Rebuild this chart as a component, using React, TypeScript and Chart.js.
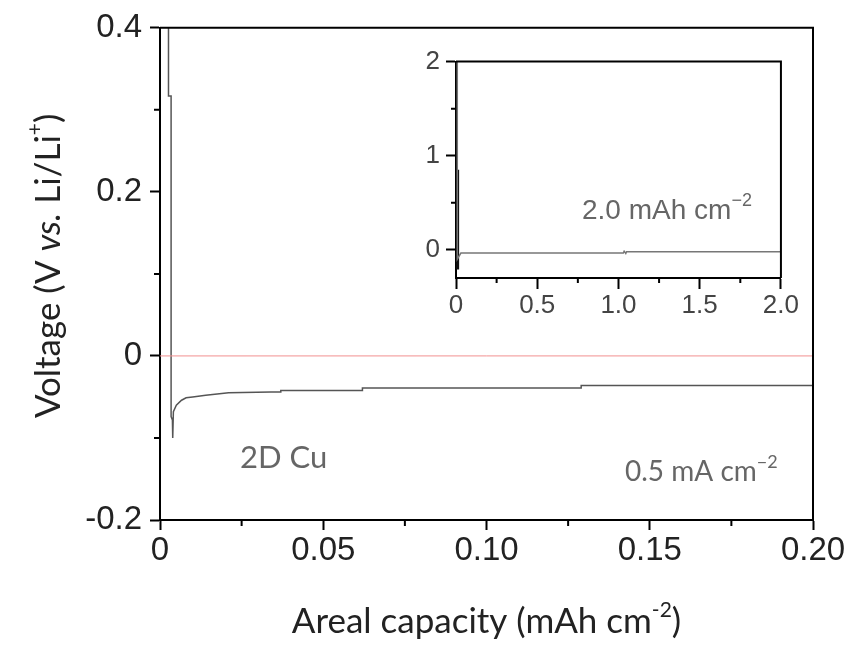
import React, { useEffect, useRef } from 'react';
import { Chart, registerables } from 'chart.js';
Chart.register(...registerables);

// ---- main chart data ----
const X_TICKS = [0, 0.05, 0.1, 0.15, 0.2];
const X_LABELS = ['0', '0.05', '0.10', '0.15', '0.20'];
const X_MINOR = [0.025, 0.075, 0.125, 0.175];
const Y_TICKS = [-0.2, 0, 0.2, 0.4];
const Y_LABELS = ['-0.2', '0', '0.2', '0.4'];
const Y_MINOR = [-0.1, 0.1, 0.3];

const capacity = [0.0026, 0.0026, 0.0034, 0.0034, 0.0038, 0.0039, 0.0041, 0.005, 0.0066, 0.008, 0.010, 0.014, 0.021, 0.034, 0.037, 0.037, 0.062, 0.062, 0.129, 0.129, 0.2];
const voltage = [0.45, 0.317, 0.317, -0.074, -0.078, -0.1, -0.068, -0.06, -0.054, -0.051, -0.05, -0.048, -0.045, -0.044, -0.044, -0.042, -0.042, -0.039, -0.039, -0.036, -0.036];
const zeroCap = [0, 0.2];
const zeroV = [0, 0];

// ---- inset data ----
const IN_X_TICKS = [0, 0.5, 1.0, 1.5, 2.0];
const IN_X_LABELS = ['0', '0.5', '1.0', '1.5', '2.0'];
const IN_X_MINOR = [0.25, 0.75, 1.25, 1.75];
const IN_Y_TICKS = [0, 1, 2];
const IN_Y_LABELS = ['0', '1', '2'];
const IN_Y_MINOR = [0.5, 1.5];

const inCap = [0.008, 0.008, 0.03, 1.03, 1.035, 1.045, 1.05, 2.0];
const inV = [2.0, -0.1, -0.035, -0.035, -0.015, -0.04, -0.02, -0.02];
const spikeCap = [0.01, 0.01];
const spikeV = [-0.21, 0.85];

type Seg = { t: string; font: string; dy?: number };
function drawRich(ctx: CanvasRenderingContext2D, segs: Seg[], x: number, y: number, align: 'left' | 'center', color: string) {
  ctx.save();
  ctx.fillStyle = color;
  ctx.textBaseline = 'alphabetic';
  ctx.textAlign = 'left';
  let total = 0;
  for (const s of segs) { ctx.font = s.font; total += ctx.measureText(s.t).width; }
  let cx = align === 'center' ? x - total / 2 : x;
  for (const s of segs) {
    ctx.font = s.font;
    ctx.fillText(s.t, cx, y + (s.dy || 0));
    cx += ctx.measureText(s.t).width;
  }
  ctx.restore();
}

function pts(xs: number[], ys: number[]) {
  return xs.map((x, i) => ({ x, y: ys[i] }));
}

function framePlugin(xMinor: number[], yMinor: number[], minorLen: number, extra?: (c: any) => void) {
  return {
    id: 'frame',
    afterDraw(chart: any) {
      const { ctx, chartArea: a, scales } = chart;
      ctx.save();
      ctx.strokeStyle = '#000';
      ctx.lineWidth = 2;
      ctx.beginPath();
      ctx.moveTo(a.left, a.top);
      ctx.lineTo(a.right, a.top);
      ctx.lineTo(a.right, a.bottom);
      ctx.stroke();
      ctx.beginPath();
      for (const v of xMinor) {
        const px = scales.x.getPixelForValue(v);
        ctx.moveTo(px, a.bottom);
        ctx.lineTo(px, a.bottom + minorLen);
      }
      for (const v of yMinor) {
        const py = scales.y.getPixelForValue(v);
        ctx.moveTo(a.left, py);
        ctx.lineTo(a.left - minorLen, py);
      }
      ctx.stroke();
      ctx.restore();
      if (extra) extra(chart);
    },
  };
}

export default function App() {
  const mainRef = useRef<HTMLCanvasElement>(null);
  const insetRef = useRef<HTMLCanvasElement>(null);

  useEffect(() => {
    const tickFont = { family: '"Liberation Sans", Arial, sans-serif', size: 33 };
    const main = new Chart(mainRef.current!, {
      type: 'line',
      data: {
        datasets: [
          { data: pts(zeroCap, zeroV), borderColor: '#f29090', borderWidth: 1, pointRadius: 0 },
          { data: pts(capacity, voltage), borderColor: '#555', borderWidth: 1.5, pointRadius: 0, tension: 0 },
        ],
      },
      options: {
        animation: false,
        responsive: false,
        devicePixelRatio: 1,
        layout: { padding: { left: 0, top: 27, right: 37, bottom: 0 } },
        plugins: { legend: { display: false }, tooltip: { enabled: false } },
        scales: {
          x: {
            type: 'linear', min: 0, max: 0.2,
            afterBuildTicks: (s: any) => { s.ticks = X_TICKS.map((v) => ({ value: v })); },
            afterFit: (s: any) => { s.height = 125; },
            ticks: { callback: (_v: any, i: number) => X_LABELS[i], font: tickFont, color: '#222', padding: 1, maxRotation: 0, autoSkip: false },
            grid: { drawOnChartArea: false, drawTicks: true, tickLength: 10, tickWidth: 2, tickColor: '#000' },
            border: { color: '#000', width: 2 },
          },
          y: {
            type: 'linear', min: -0.2, max: 0.4,
            afterBuildTicks: (s: any) => { s.ticks = Y_TICKS.map((v) => ({ value: v })); },
            afterFit: (s: any) => { s.width = 160; },
            ticks: { callback: (_v: any, i: number) => Y_LABELS[i], font: tickFont, color: '#222', padding: 8, autoSkip: false },
            grid: { drawOnChartArea: false, drawTicks: true, tickLength: 10, tickWidth: 2, tickColor: '#000' },
            border: { color: '#000', width: 2 },
          },
        },
      },
      plugins: [
        framePlugin(X_MINOR, Y_MINOR, 6, (chart: any) => {
          const ctx = chart.ctx as CanvasRenderingContext2D;
          const a = chart.chartArea;
          const f = (n: number, st = '') => `${st}${n}px Lato, "Open Sans", sans-serif`;
          // x title
          drawRich(ctx, [
            { t: 'Areal capacity (mAh cm', font: f(35) },
            { t: '-2', font: f(21), dy: -16 },
            { t: ')', font: f(35) },
          ], (a.left + a.right) / 2, 633, 'center', '#222');
          // y title
          ctx.save();
          ctx.translate(60, (a.top + a.bottom) / 2 - 8);
          ctx.rotate(-Math.PI / 2);
          drawRich(ctx, [
            { t: 'Voltage (V ', font: f(35) },
            { t: 'vs.', font: f(35, 'italic ') },
            { t: ' Li/Li', font: f(35) },
            { t: '+', font: f(21), dy: -18 },
            { t: ')', font: f(35) },
          ], 0, 0, 'center', '#222');
          ctx.restore();
          // annotations
          drawRich(ctx, [{ t: '2D Cu', font: f(31) }], 240, 468, 'left', '#666');
          drawRich(ctx, [
            { t: '0.5 mA cm', font: f(28) },
            { t: '\u22122', font: f(18), dy: -13 },
          ], 625, 481, 'left', '#666');
        }),
      ],
    } as any);

    const inFont = { family: '"Liberation Sans", Arial, sans-serif', size: 26 };
    const inset = new Chart(insetRef.current!, {
      type: 'line',
      data: {
        datasets: [
          { data: pts(inCap, inV), borderColor: '#777', borderWidth: 1.5, pointRadius: 0 },
          { data: pts(spikeCap, spikeV), borderColor: '#111', borderWidth: 3, pointRadius: 0 },
        ],
      },
      options: {
        animation: false,
        responsive: false,
        devicePixelRatio: 1,
        layout: { padding: { left: 0, top: 20, right: 19, bottom: 0 } },
        plugins: { legend: { display: false }, tooltip: { enabled: false } },
        scales: {
          x: {
            type: 'linear', min: 0, max: 2,
            afterBuildTicks: (s: any) => { s.ticks = IN_X_TICKS.map((v) => ({ value: v })); },
            afterFit: (s: any) => { s.height = 52; },
            ticks: { callback: (_v: any, i: number) => IN_X_LABELS[i], font: inFont, color: '#444', padding: 1, maxRotation: 0, autoSkip: false },
            grid: { drawOnChartArea: false, drawTicks: true, tickLength: 11, tickWidth: 2, tickColor: '#000' },
            border: { color: '#000', width: 2 },
          },
          y: {
            type: 'linear', min: -0.3, max: 2,
            afterBuildTicks: (s: any) => { s.ticks = IN_Y_TICKS.map((v) => ({ value: v })); },
            afterFit: (s: any) => { s.width = 56; },
            ticks: { callback: (_v: any, i: number) => IN_Y_LABELS[i], font: inFont, color: '#444', padding: 6, autoSkip: false },
            grid: { drawOnChartArea: false, drawTicks: true, tickLength: 10, tickWidth: 2, tickColor: '#000' },
            border: { color: '#000', width: 2 },
          },
        },
      },
      plugins: [
        framePlugin(IN_X_MINOR, IN_Y_MINOR, 5, (chart: any) => {
          const ctx = chart.ctx as CanvasRenderingContext2D;
          drawRich(ctx, [
            { t: '2.0 mAh cm', font: '28px "Liberation Sans", Arial, sans-serif' },
            { t: '\u22122', font: '18px "Liberation Sans", Arial, sans-serif', dy: -13 },
          ], 182, 179, 'left', '#666');
        }),
      ],
    } as any);

    return () => { main.destroy(); inset.destroy(); };
  }, []);

  return (
    <div style={{ position: 'fixed', left: 0, top: 0, width: 850, height: 645, background: '#fff' }}>
      <canvas ref={mainRef} width={850} height={645} style={{ position: 'absolute', left: 0, top: 0 }} />
      <canvas ref={insetRef} width={400} height={290} style={{ position: 'absolute', left: 400, top: 40 }} />
    </div>
  );
}
